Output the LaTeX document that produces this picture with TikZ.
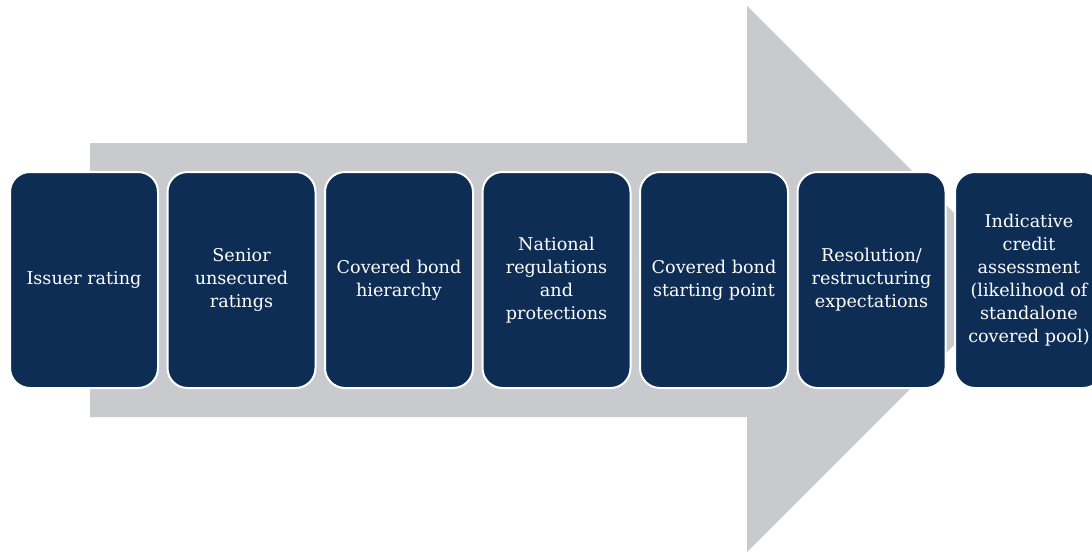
\documentclass[tikz,border=0pt]{standalone}
\usepackage{fontspec}
\setmainfont{DejaVu Serif}
\definecolor{navy}{HTML}{0D2D54}
\definecolor{arrowgray}{HTML}{C9CACE}
\begin{document}
\begin{tikzpicture}[x=1pt,y=-1pt,
  stage/.style={rectangle, rounded corners=20pt, fill=navy, draw=white,
    line width=2pt, minimum width=148pt, minimum height=216pt,
    text=white, align=center, font=\fontsize{17.6}{23}\selectfont,
    inner sep=0pt}]
\useasboundingbox (0,0) rectangle (1092,552);
% big process arrow behind the stages
\fill[arrowgray] (90,143) -- (747,143) -- (747,6) -- (1020,279)
  -- (747,552) -- (747,417) -- (90,417) -- cycle;
% stage boxes
\node[stage] (s1) at (84,280) {Issuer rating};
\node[stage] (s2) at (241.5,280) {Senior\\unsecured\\ratings};
\node[stage] (s3) at (399,280) {Covered bond\\hierarchy};
\node[stage] (s4) at (556.5,280) {National\\regulations\\and\\protections};
\node[stage] (s5) at (714,280) {Covered bond\\starting point};
\node[stage] (s6) at (871.5,280) {Resolution/\\restructuring\\expectations};
\node[stage] (s7) at (1029,280) {Indicative\\credit\\assessment\\(likelihood of\\standalone\\covered pool)};
\end{tikzpicture}
\end{document}
